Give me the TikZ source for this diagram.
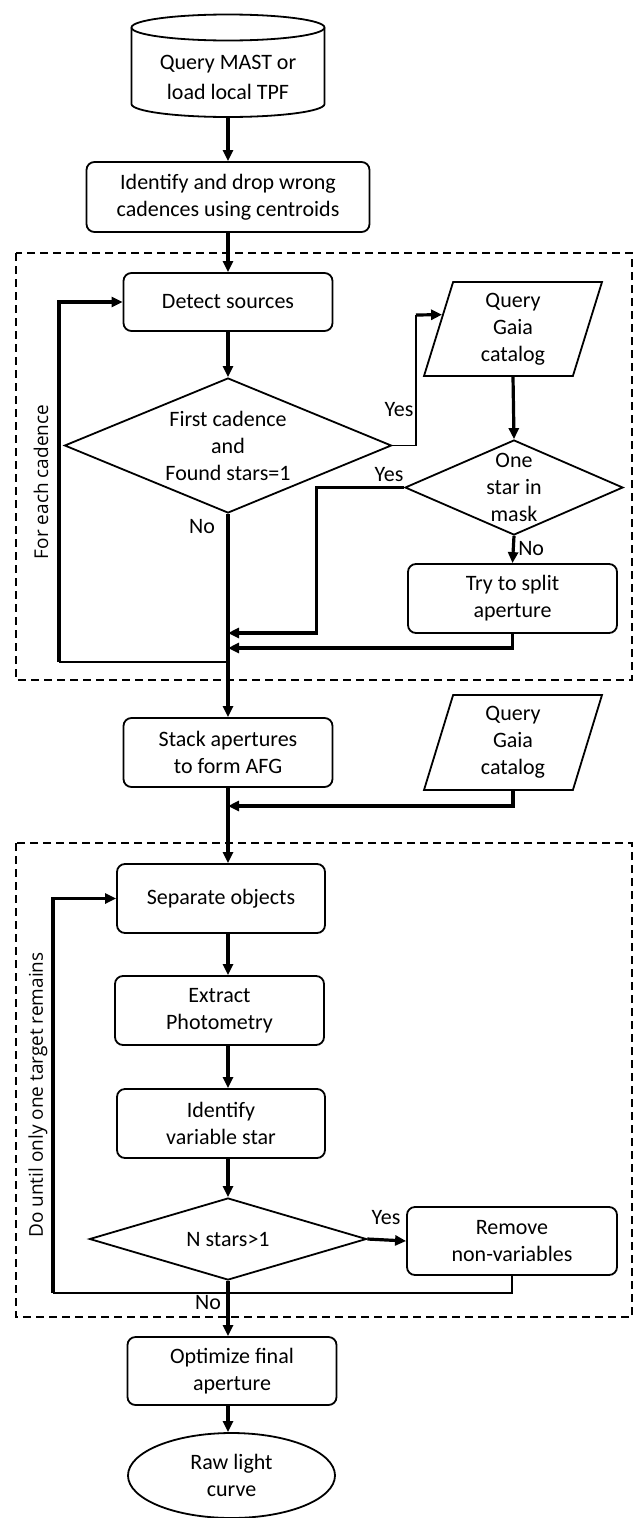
\documentclass[tikz,border=0pt]{standalone}
\usepackage{fontspec}
\setmainfont{Carlito}
\newfontfamily\sidefont{Open Sans}
\usetikzlibrary{shapes.geometric,arrows.meta,calc}

\begin{document}
\begin{tikzpicture}[x=1pt,y=-1pt,font=\fontsize{22}{27}\selectfont,
	box/.style={rectangle,rounded corners=8pt,draw,line width=1.8pt,align=center,inner sep=0pt},
	decision/.style={diamond,draw,line width=1.8pt,align=center,inner sep=0pt,aspect=2.42},
	data/.style={trapezium,trapezium left angle=68,trapezium right angle=112,trapezium stretches body,draw,line width=1.8pt,align=center,inner sep=0pt,minimum width=178pt},
	flow/.style={line width=3.2pt,-{Triangle[length=11pt,width=10pt]}},
	link/.style={line width=1.8pt},
	side/.style={rotate=90,font=\sidefont\fontsize{19}{22}\selectfont}]
	\useasboundingbox (0,0) rectangle (639,1518);
	\coordinate (col) at (228,0);
	% first part
	\draw[line width=1.8pt] (131.5,27.5) -- (131.5,104) arc[start angle=180,end angle=0,x radius=96.5,y radius=13] -- (324.5,27.5);
	\draw[line width=1.8pt] (228,27.5) ellipse[x radius=96.5,y radius=13];
	\node[minimum width=193pt,minimum height=80pt,align=center,inner sep=0pt,font=\fontsize{22}{30}\selectfont] (mast) at (228,77) {Query MAST or\\load local TPF};
	\node[box,minimum width=283pt,minimum height=70pt] (drop) at (228,197) {Identify and drop wrong\\cadences using centroids};
	\draw[dashed,line width=1.8pt,dash pattern=on 8pt off 5pt] (16,253) rectangle (632,680);
	\node[side] at (41,482) {For each cadence};
	\node[box,minimum width=209pt,minimum height=58pt] (detect) at (228,302) {Detect sources};
	\node[decision,minimum width=327pt,minimum height=135pt] (first) at (228,445.5) {First cadence\\and\\Found stars=1};
	\node[data,minimum height=94pt] (gaia1) at (513,329) {Query\\Gaia\\catalog};
	\node[decision,minimum width=218pt,minimum height=95pt,label={[align=center]center:One\\star in\\mask}] (onestar) at (514,487.5) {};
	\node[box,minimum width=209pt,minimum height=69pt] (split) at (512.5,598.5) {Try to split\\aperture};
	\node[box,minimum width=209pt,minimum height=69pt] (stack) at (228,752.5) {Stack apertures\\to form AFG};
	\node[data,minimum height=95pt] (gaia2) at (513,742.5) {Query\\Gaia\\catalog};
	\coordinate (join1) at (228,633);
	\coordinate (join2) at (228,648);
	\coordinate (join3) at (228,806);
	\coordinate (loop1) at (228,662);
	\coordinate (yes1) at (416,315);
	\draw[flow] (mast) -- (drop);
	\draw[flow] (drop) -- (detect);
	\draw[flow] (detect) -- (first);
	\draw[link] (first.east) -| (yes1);
	\draw[flow] (yes1) -- ($(gaia1.top left corner)!0.35!(gaia1.bottom left corner)$);
	\node at (399,410) {Yes};
	\draw[flow] (gaia1.south) -- (onestar.north);
	\draw[flow] (onestar.west) -- ++(-88,0) |- (join1);
	\node at (389,475) {Yes};
	\draw[flow] (onestar.south) -- (split.north) node[pos=0.45,right=0pt] {No};
	\draw[flow] (split.south) |- (join2);
	\draw[flow] (first.south) -- (stack.north);
	\node at (202,527) {No};
	\draw[link] (loop1) -- (59,662);
	\draw[flow] (59,662) |- (detect.west);
	\draw[flow] (gaia2.south) |- (join3);
	% second part
	\draw[dashed,line width=1.8pt,dash pattern=on 8pt off 5pt] (16,843) rectangle (632,1317);
	\node[side] at (38,1095) {Do until only one target remains};
	\node[box,minimum width=208pt,minimum height=69pt] (sep) at (221,898.5) {Separate objects};
	\node[box,minimum width=209pt,minimum height=69pt] (extract) at (219.5,1010.5) {Extract\\Photometry};
	\node[box,minimum width=208pt,minimum height=69pt] (ident) at (221,1123.5) {Identify\\variable star};
	\node[decision,minimum width=277pt,minimum height=82pt] (nstars) at (228,1239) {N stars>1};
	\node[box,minimum width=210pt,minimum height=68pt] (remove) at (512,1241) {Remove\\non-variables};
	\node[box,minimum width=209pt,minimum height=68pt] (optim) at (232,1371) {Optimize final\\aperture};
	\node[ellipse,draw,line width=1.8pt,minimum width=207pt,minimum height=85pt,align=center,inner sep=0pt] (raw) at (231.5,1475.5) {Raw light\\curve};
	\coordinate (loop2) at (53,1293);
	\draw[flow] (stack.south) -- (stack.south |- sep.north);
	\draw[flow] (sep.south -| col) -- (extract.north -| col);
	\draw[flow] (extract.south -| col) -- (ident.north -| col);
	\draw[flow] (ident.south -| col) -- (nstars.north);
	\draw[flow] (nstars.east) -- (remove.west);
	\node at (386,1218) {Yes};
	\draw[link] (remove.south) |- (loop2);
	\draw[flow] (loop2) |- (sep.west);
	\draw[flow] (nstars.south) -- (nstars.south |- optim.north);
	\node at (208,1303) {No};
	\draw[flow] (optim.south -| col) -- (raw.north -| col);
\end{tikzpicture}
\end{document}
